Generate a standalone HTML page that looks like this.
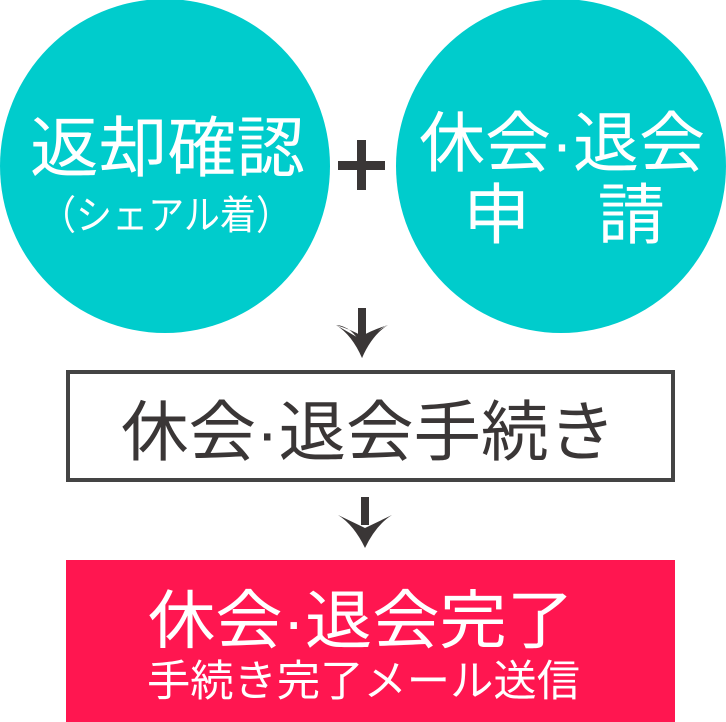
<!DOCTYPE html>
<html><head><meta charset="utf-8"><style>
html,body{margin:0;padding:0;background:#fff;width:726px;height:722px;overflow:hidden}
svg text{font-family:"Liberation Sans","Noto Sans CJK JP",sans-serif}
</style></head><body>
<svg width="726" height="722" viewBox="0 0 726 722" xmlns="http://www.w3.org/2000/svg">
<ellipse cx="165" cy="166" rx="165" ry="167" fill="#00cccc"/>
<ellipse cx="561" cy="166" rx="165" ry="167" fill="#00cccc"/>
<rect x="338" y="161" width="47" height="9" fill="#3a3636"/>
<rect x="357" y="140" width="9" height="50" fill="#3a3636"/>
<g fill="#fff">
<text x="30" y="171" font-size="66" textLength="275" lengthAdjust="spacingAndGlyphs">返却確認</text>
<text x="40" y="229" font-size="40" textLength="252" lengthAdjust="spacingAndGlyphs">（シェアル着）</text>
<text x="419" y="166" font-size="66" textLength="286" lengthAdjust="spacingAndGlyphs">休会·退会</text>
<text x="463" y="238" font-size="66" textLength="202" lengthAdjust="spacingAndGlyphs">申　請</text>
</g>
<g fill="#3a3636">
<rect x="358" y="308" width="8" height="28"/>
<path d="M336 325 Q352 326 362 346 L362 358 Q372 330 388 325 Q372 330 362 336 Q352 330 336 325Z"/>
<path d="M336 325 L362 340 L388 325 Q372 335 362 358 Q352 335 336 325Z"/>
<rect x="361" y="497" width="8" height="28"/>
<path d="M338 515 L365 528 L392 515 Q376 525 365 548 Q354 525 338 515Z"/>
</g>
<rect x="68" y="372" width="605" height="108" fill="#fff" stroke="#444" stroke-width="4"/>
<text x="121" y="455" font-size="66" fill="#3a3636" textLength="495" lengthAdjust="spacingAndGlyphs">休会·退会手続き</text>
<rect x="66" y="560" width="609" height="162" fill="#ff1650"/>
<g fill="#fff">
<text x="148" y="643" font-size="64" textLength="426" lengthAdjust="spacingAndGlyphs">休会·退会完了</text>
<text x="147" y="696" font-size="43" textLength="433" lengthAdjust="spacingAndGlyphs">手続き完了メール送信</text>
</g>
</svg>
</body></html>
